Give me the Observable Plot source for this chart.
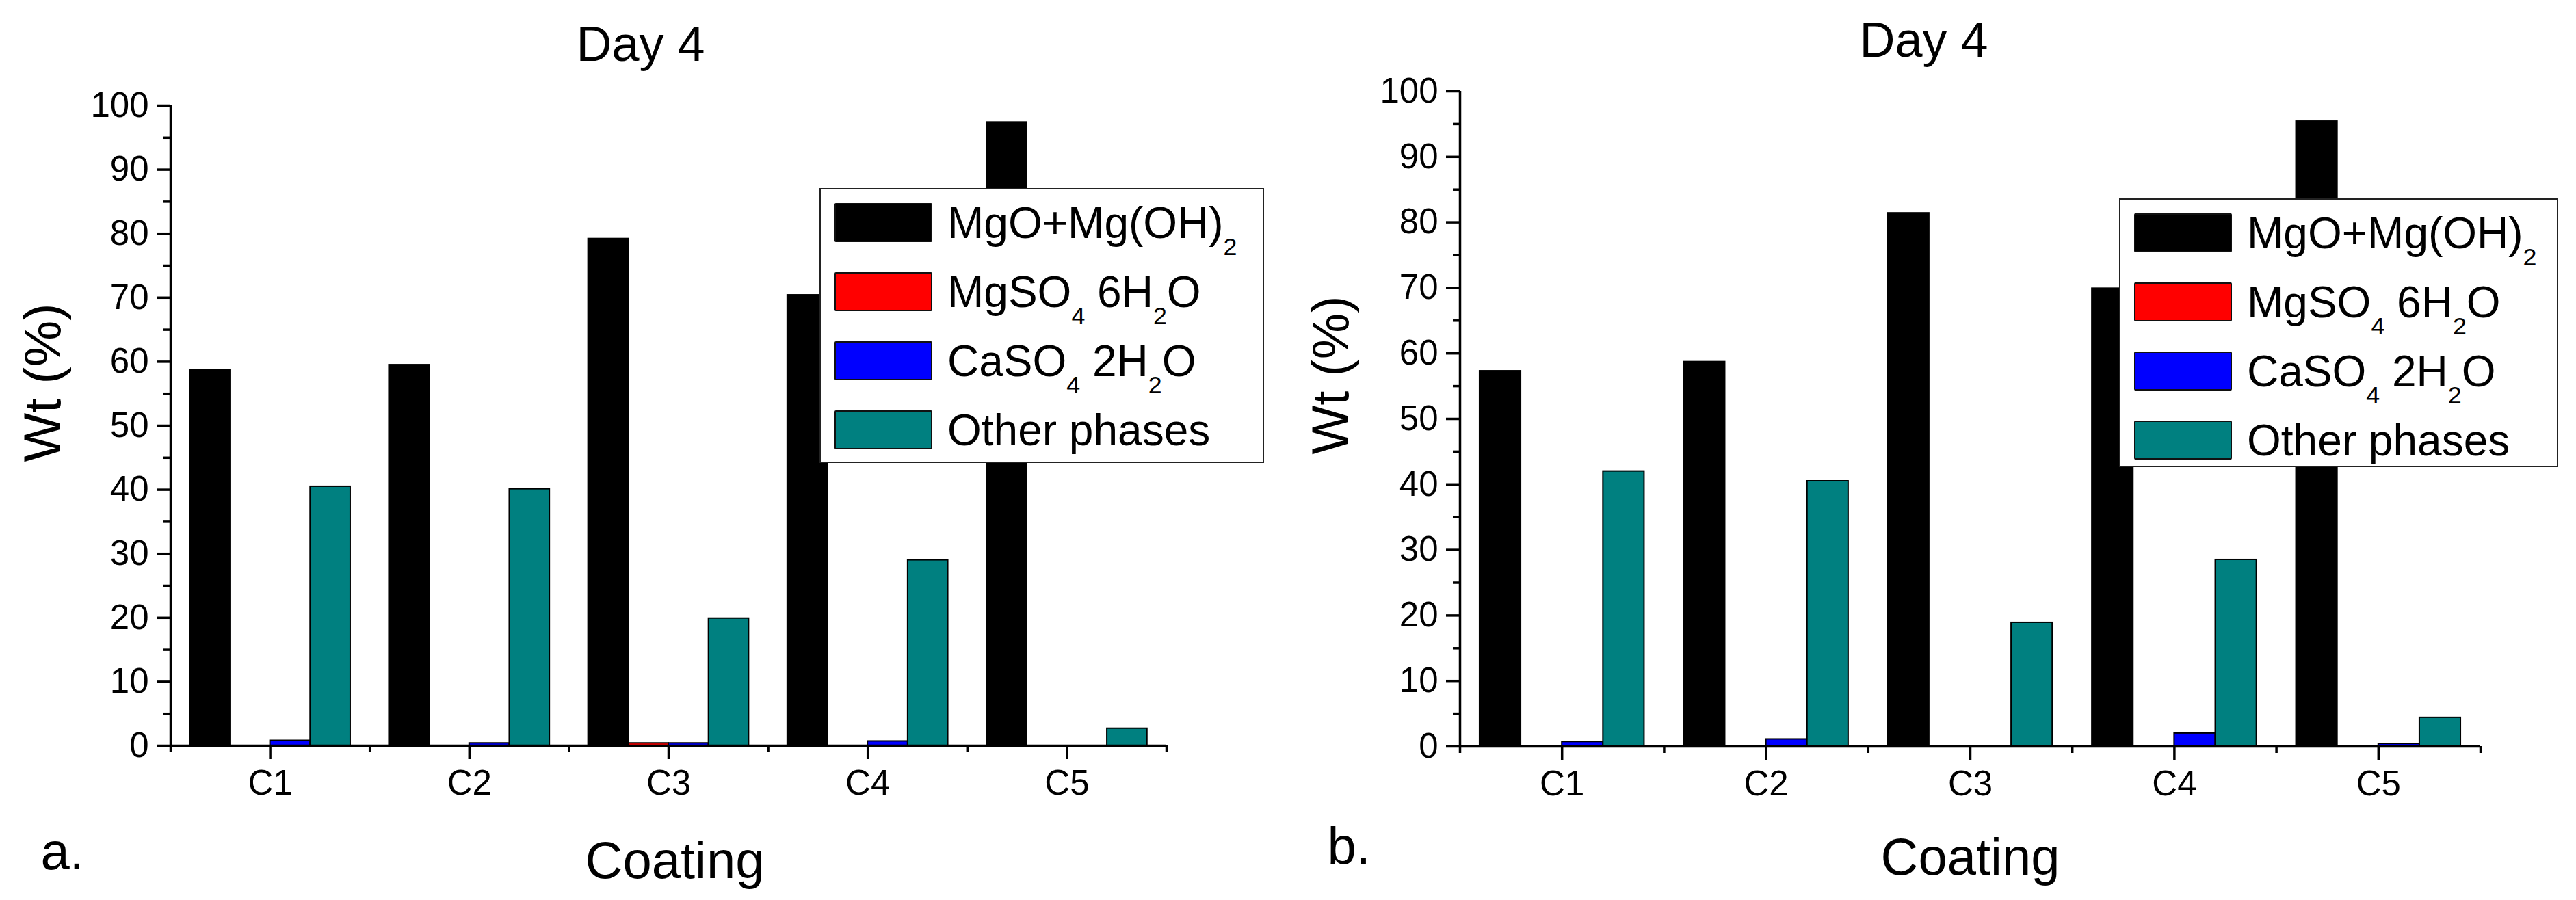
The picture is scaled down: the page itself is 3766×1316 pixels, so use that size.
<!DOCTYPE html>
<html>
<head>
<meta charset="utf-8">
<script src="https://cdn.jsdelivr.net/npm/d3@7"></script>
<script src="https://cdn.jsdelivr.net/npm/@observablehq/plot@0.6"></script>
<style>
  body { margin: 0; background: #fff; }
  #fig { position: relative; width: 3766px; height: 1316px; font-family: "Liberation Sans", Arial, sans-serif; }
  .panel { position: absolute; top: 0; }
  .legend { position: absolute; box-sizing: border-box; background: #fff; border: 2px solid #222; padding: 20px 0 0 20px; }
  .row { display: flex; align-items: center; height: 57px; margin-bottom: 44px; }
  .swatch { width: 143px; height: 57px; box-sizing: border-box; border: 2px solid #111; border-radius: 2px; }
  .label { margin-left: 22px; font-size: 64px; line-height: 64px; white-space: nowrap; }
  .label sub { font-size: 0.56em; position: relative; top: 0.7em; vertical-align: baseline; line-height: 0; }
</style>
</head>
<body>
<div id="fig"></div>
<script>
const coatings = ["C1", "C2", "C3", "C4", "C5"];
const phases = ["MgO+Mg(OH)2", "MgSO4 6H2O", "CaSO4 2H2O", "Other phases"];
const phaseColors = ["#000000", "#ff0000", "#0000ff", "#008080"];

// panel a, Wt (%)
const mgoA = [58.7, 59.5, 79.2, 70.4, 97.4];
const mgso4A = [0, 0, 0.4, 0, 0];
const caso4A = [0.8, 0.4, 0.4, 0.7, 0];
const otherA = [40.5, 40.1, 19.9, 29.0, 2.7];

// panel b, Wt (%)
const mgoB = [57.3, 58.7, 81.4, 69.9, 95.4];
const mgso4B = [0, 0, 0, 0, 0];
const caso4B = [0.7, 1.1, 0, 2.0, 0.4];
const otherB = [42.0, 40.5, 18.9, 28.5, 4.4];

const yMajorTicks = [0, 10, 20, 30, 40, 50, 60, 70, 80, 90, 100];
const yMinorTicks = [5, 15, 25, 35, 45, 55, 65, 75, 85, 95];
const xMajorTicks = [1, 2, 3, 4, 5];
const xMinorTicks = [0.5, 1.5, 2.5, 3.5, 4.5, 5.5];

const font = "'Liberation Sans', Arial, sans-serif";
const groupHalf = 0.403;   // half width of a group of 4 bars, in category units
const barStep = 0.2015;    // one bar, in category units
const axisW = 3.5;

function chem(s) {
  return s.replace(/([A-Za-z\)])(\d+)/g, "$1<sub>$2</sub>");
}

function drawPanel(cfg) {
  const fig = document.getElementById("fig");
  const rows = coatings.flatMap((c, i) =>
    phases.map((p, j) => ({coating: c, phase: p, i, j, value: cfg.series[j][i]})));

  const plot = Plot.plot({
    width: cfg.width,
    height: 1316,
    marginLeft: cfg.m[0],
    marginRight: cfg.m[1],
    marginTop: cfg.m[2],
    marginBottom: cfg.m[3],
    x: {domain: [0.5, 5.5], axis: null, label: null},
    y: {domain: [0, 100], axis: null, label: null},
    color: {domain: phases, range: phaseColors},
    style: {fontFamily: font, background: "transparent", overflow: "visible"},
    marks: [
      Plot.rectY(rows, {
        x1: d => d.i + 1 - groupHalf + d.j * barStep,
        x2: d => d.i + 1 - groupHalf + (d.j + 1) * barStep,
        y1: 0, y2: "value",
        fill: "phase", stroke: "#000", strokeWidth: 2
      }),
      Plot.ruleY([0], {x1: 0.5, x2: 5.5, strokeWidth: axisW}),
      Plot.ruleX([0.5], {y1: 0, y2: 100, strokeWidth: axisW}),
      Plot.axisY({ticks: yMajorTicks, tickSize: 20, tickPadding: 12, fontSize: 51, strokeWidth: axisW, label: null}),
      Plot.axisY({ticks: yMinorTicks, tickSize: 10, tickFormat: () => "", strokeWidth: axisW, label: null}),
      Plot.axisX({ticks: xMajorTicks, tickSize: 20, tickPadding: 15, fontSize: 51,
                  tickFormat: i => coatings[i - 1], strokeWidth: axisW, label: null}),
      Plot.axisX({ticks: xMinorTicks, tickSize: 10, tickFormat: () => "", strokeWidth: axisW, label: null}),
      Plot.text([cfg.title], {frameAnchor: "top", dx: cfg.titlePos[0], dy: cfg.titlePos[1],
                              lineAnchor: "bottom", fontSize: 72}),
      Plot.text(["Wt (%)"], {frameAnchor: "left", dx: cfg.yLabelPos[0], dy: cfg.yLabelPos[1],
                             rotate: -90, lineAnchor: "middle", fontSize: 76}),
      Plot.text(["Coating"], {frameAnchor: "bottom", dx: cfg.xLabelPos[0], dy: cfg.xLabelPos[1],
                              lineAnchor: "bottom", fontSize: 76}),
      Plot.text([cfg.tag], {frameAnchor: "bottom-left", dx: cfg.tagPos[0], dy: cfg.tagPos[1],
                            textAnchor: "start", lineAnchor: "bottom", fontSize: 76})
    ]
  });

  const holder = document.createElement("div");
  holder.className = "panel";
  holder.style.left = cfg.left + "px";
  holder.appendChild(plot);
  fig.appendChild(holder);

  // legend box, drawn over the bars like the original
  const lg = d3.select(fig).append("div")
    .attr("class", "legend")
    .style("left", cfg.legend[0] + "px")
    .style("top", cfg.legend[1] + "px")
    .style("width", cfg.legend[2] + "px")
    .style("height", cfg.legend[3] + "px");
  const row = lg.selectAll(".row").data(phases).join("div").attr("class", "row");
  row.append("div").attr("class", "swatch").style("background", (d, j) => phaseColors[j]);
  row.append("div").attr("class", "label").html(d => chem(d));
}

drawPanel({
  left: 0, width: 1880, m: [249, 175, 154, 226],
  series: [mgoA, mgso4A, caso4A, otherA],
  title: "Day 4", titlePos: [-41, -66],
  yLabelPos: [-186, 53], xLabelPos: [9, 193],
  tag: "a.", tagPos: [-190, 180],
  legend: [1198, 275, 650, 402]
});

drawPanel({
  left: 1880, width: 1886, m: [254, 140, 133, 225],
  series: [mgoB, mgso4B, caso4B, otherB],
  title: "Day 4", titlePos: [-68, -51],
  yLabelPos: [-188, 52], xLabelPos: [0, 187],
  tag: "b.", tagPos: [-194, 171],
  legend: [3098, 290, 642, 393]
});
</script>
</body>
</html>
